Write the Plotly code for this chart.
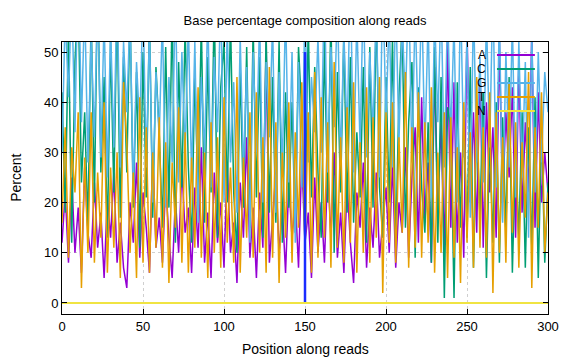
import plotly.graph_objects as go

positions = list(range(0, 301, 2))

A = [12, 22, 8, 25, 10, 19, 6, 27, 14, 9, 24, 11, 18, 5, 21, 13, 26, 8, 16, 7,
     3, 20, 12, 28, 9, 22, 15, 6, 30, 11, 17, 8, 24, 13, 5, 21, 10, 27, 14, 19,
     6, 23, 11, 31, 8, 18, 5, 26, 12, 20, 7, 28, 10, 16, 4, 24, 13, 33, 9, 19,
     5, 22, 11, 52, 8, 17, 26, 10, 19, 6, 24, 13, 21, 7, 29, 12, 18, 5, 25, 10,
     20, 8, 27, 13, 30, 9, 18, 6, 24, 12, 4, 22, 15, 28, 7, 19, 11, 26, 9, 16,
     23, 10, 28, 7, 20, 14, 31, 9, 25, 35, 12, 41, 16, 28, 8, 47, 18, 36, 10, 52,
     15, 44, 12, 30, 9, 55, 20, 38, 14, 48, 11, 40, 22, 35, 13, 52, 20, 38, 25, 43,
     13, 48, 18, 36, 22, 54, 15, 42, 20, 30, 22]

C = [42, 18, 55, 12, 48, 62, 24, 38, 15, 58, 20, 66, 26, 45, 13, 52, 22, 60, 17, 49,
     26, 59, 19, 46, 11, 50, 21, 57, 17, 47, 34, 15, 51, 19, 59, 12, 48, 23, 55, 27,
     12, 46, 21, 56, 16, 49, 22, 60, 13, 43, 52, 20, 57, 22, 10, 47, 19, 51, 15, 55,
     21, 49, 13, 54, 18, 45, 16, 52, 12, 42, 19, 40, 14, 51, 38, 11, 56, 21, 47, 26,
     13, 52, 20, 58, 10, 46, 22, 54, 18, 49, 16, 34, 21, 47, 12, 51, 19, 59, 23, 13,
     45, 20, 53, 11, 41, 56, 15, 36, 48, 9, 43, 23, 14, 36, 8, 51, 12, 45, 1, 39,
     35, 1, 44, 15, 38, 13, 47, 7, 36, 17, 42, 5, 33, 12, 40, 8, 37, 14, 45, 6,
     31, 13, 38, 7, 35, 11, 41, 5, 36, 8, 24]

G = [30, 58, 41, 62, 34, 70, 36, 60, 28, 53, 33, 61, 29, 57, 25, 55, 31, 63, 27, 52,
     38, 58, 22, 48, 35, 61, 27, 55, 20, 46, 33, 57, 19, 45, 28, 62, 24, 50, 30, 56,
     25, 52, 16, 45, 30, 58, 23, 49, 34, 62, 20, 55, 28, 44, 18, 53, 26, 47, 12, 50,
     30, 57, 20, 48, 33, 56, 18, 46, 27, 59, 24, 50, 12, 48, 23, 60, 28, 45, 34, 53,
     30, 64, 26, 51, 35, 61, 28, 54, 33, 66, 26, 57, 31, 63, 29, 50, 34, 60, 25, 65,
     36, 58, 27, 61, 32, 56, 40, 64, 28, 59, 33, 62, 30, 57, 21, 58, 36, 61, 27, 59,
     33, 56, 20, 62, 29, 53, 17, 60, 28, 49, 24, 57, 31, 63, 23, 58, 16, 50, 27, 56,
     21, 52, 25, 48, 13, 54, 22, 50, 28, 46, 38]

T = [16, 35, 9, 31, 22, 38, 3, 29, 10, 38, 8, 26, 13, 40, 6, 27, 11, 30, 5, 44,
     32, 10, 26, 5, 41, 8, 35, 6, 30, 11, 37, 7, 32, 4, 28, 15, 39, 8, 34, 6,
     29, 11, 43, 9, 30, 5, 36, 10, 33, 7, 41, 12, 27, 8, 45, 6, 29, 13, 38, 9,
     42, 10, 33, 6, 47, 9, 36, 4, 30, 13, 40, 8, 34, 15, 44, 11, 38, 6, 46, 9,
     41, 13, 36, 7, 48, 11, 33, 8, 39, 12, 44, 6, 32, 10, 43, 8, 37, 13, 45, 2,
     38, 12, 40, 8, 33, 14, 46, 7, 35, 11, 42, 9, 36, 12, 43, 6, 30, 10, 38, 5,
     37, 9, 31, 4, 40, 12, 34, 7, 45, 11, 35, 9, 42, 2, 38, 10, 33, 8, 44, 14,
     36, 7, 32, 17, 46, 3, 35, 15, 42, 10, 22]

N = [0] * len(positions)

# vertical marker (read boundary)
marker_x = [150, 150]
marker_y = [0, 50]

series_names = ["A", "C", "G", "T", "N"]
series_values = [A, C, G, T, N]
series_colors = ["#9400d3", "#009e73", "#56b4e9", "#e69f00", "#f0e442"]

FONT = "Liberation Sans, Arial, sans-serif"

fig = go.Figure()
for name, vals, col in zip(series_names[:4], series_values[:4], series_colors[:4]):
    fig.add_trace(go.Scatter(x=positions, y=vals, mode="lines", name=name,
                             line=dict(color=col, width=1.5), showlegend=False))
fig.add_trace(go.Scatter(x=marker_x, y=marker_y, mode="lines",
                         line=dict(color="#1a2cff", width=2.5), showlegend=False))
fig.add_trace(go.Scatter(x=positions, y=N, mode="lines", name="N",
                         line=dict(color=series_colors[4], width=2), showlegend=False))

# gnuplot-style legend (text, then sample line)
legend_y = [0.952, 0.901, 0.849, 0.798, 0.746]
annotations = []
shapes = []
for name, col, ly in zip(series_names, series_colors, legend_y):
    annotations.append(dict(x=0.876, y=ly, xref="paper", yref="paper", text=name,
                            showarrow=False, xanchor="right", yanchor="middle",
                            font=dict(family=FONT, size=12, color="black")))
    shapes.append(dict(type="line", xref="paper", yref="paper", x0=0.895, x1=0.973,
                       y0=ly, y1=ly, line=dict(color=col, width=2)))

# axis titles as annotations for exact placement
annotations.append(dict(x=0.5, y=-0.129, xref="paper", yref="paper",
                        text="Position along reads", showarrow=False,
                        xanchor="center", yanchor="middle",
                        font=dict(family=FONT, size=14, color="black")))
annotations.append(dict(x=-0.095, y=0.5, xref="paper", yref="paper",
                        text="Percent", showarrow=False, textangle=-90,
                        xanchor="center", yanchor="middle",
                        font=dict(family=FONT, size=14, color="black")))

axis_common = dict(showline=True, linecolor="black", linewidth=1, mirror="ticks",
                   ticks="inside", ticklen=5, tickcolor="black", showgrid=True,
                   gridcolor="#cfcfcf", griddash="dot", gridwidth=1, zeroline=False,
                   automargin=False,
                   tickfont=dict(family=FONT, size=13, color="black"))

# page has an 8px body margin, so the figure is drawn 8px smaller
fig.update_layout(
    width=568, height=352,
    margin=dict(l=54, r=28, t=34, b=46),
    paper_bgcolor="white", plot_bgcolor="white",
    title=dict(text="Base percentage composition along reads", x=0.5, xanchor="center",
               xref="paper", y=0.966, yanchor="middle",
               font=dict(family=FONT, size=13, color="black")),
    xaxis=dict(range=[0, 300], tickvals=[0, 50, 100, 150, 200, 250, 300], **axis_common),
    yaxis=dict(range=[-2.2, 52], tickvals=[0, 10, 20, 30, 40, 50], **axis_common),
    annotations=annotations, shapes=shapes,
)

fig.write_html("out.html")
